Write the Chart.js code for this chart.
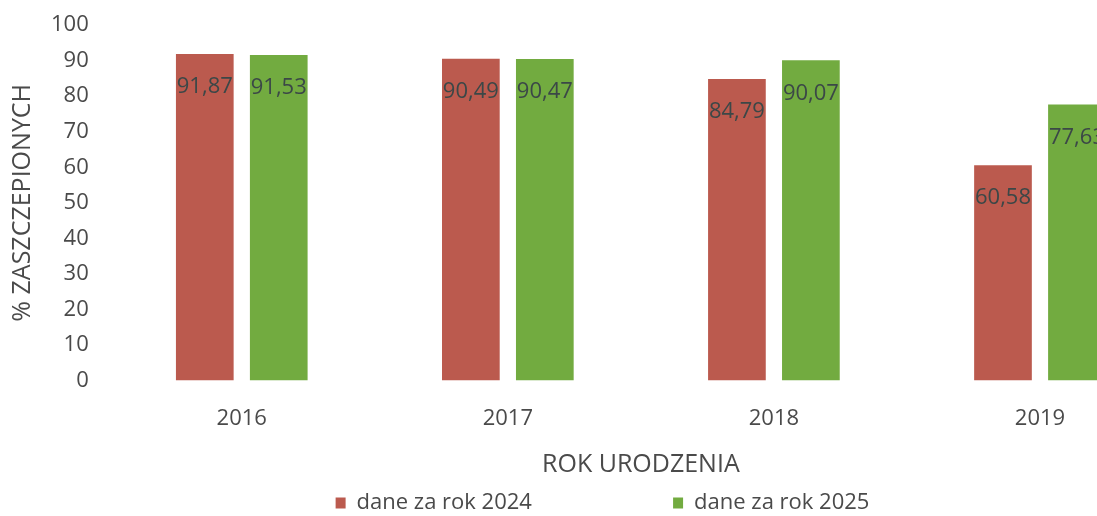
<!DOCTYPE html>
<html>
<head>
<meta charset="utf-8">
<script src="https://cdn.jsdelivr.net/npm/chart.js@4/dist/chart.umd.min.js"></script>
<style>
  html, body { margin: 0; padding: 0; background: #fff; overflow: hidden; }
  #wrap { width: 1097px; height: 516px; overflow: hidden; }
</style>
</head>
<body>
<div id="wrap"><canvas id="vacc" width="1210" height="524"></canvas></div>
<script>
'use strict';

const years = ["2016", "2017", "2018", "2019"];
const data2024 = [91.87, 90.49, 84.79, 60.58];
const data2025 = [91.53, 90.47, 90.07, 77.63];
const yTicks = [0, 10, 20, 30, 40, 50, 60, 70, 80, 90, 100];

const FONT = "'Open Sans', 'Liberation Sans', sans-serif";
const RED = "#bb5a4e";
const GREEN = "#72ab40";
const TEXT = "#4a4a4a";

// values written inside the top of each bar, clipped to the bar
const barLabels = {
  id: 'barLabels',
  afterDatasetsDraw(chart) {
    const ctx = chart.ctx;
    chart.data.datasets.forEach((ds, di) => {
      const meta = chart.getDatasetMeta(di);
      meta.data.forEach((bar, i) => {
        const w = bar.width;
        ctx.save();
        ctx.beginPath();
        ctx.rect(bar.x - w / 2, bar.y, w, bar.base - bar.y);
        ctx.clip();
        ctx.font = "22px " + FONT;
        ctx.fillStyle = "#3b4747";
        ctx.textAlign = "center";
        ctx.textBaseline = "middle";
        ctx.fillText(ds.data[i].toFixed(2).replace('.', ','), bar.x, bar.y + 33);
        ctx.restore();
      });
    });
  }
};

// legend sits a little right of the canvas middle in the original
const legendShift = {
  id: 'legendShift',
  afterLayout(chart) {
    chart.legend.left += 14;
    chart.legend.right += 14;
  }
};

let canvas = document.getElementById("vacc");

let chart = new Chart(canvas, {
  type: 'bar',
  data: {
    labels: years,
    datasets: [{
      label: "dane za rok 2024",
      data: data2024,
      backgroundColor: RED,
    }, {
      label: "dane za rok 2025",
      data: data2025,
      backgroundColor: GREEN,
    }],
  },
  options: {
    responsive: false,
    animation: false,
    devicePixelRatio: 1,
    layout: {
      padding: { left: 4, right: 37, top: 25, bottom: 0 }
    },
    datasets: {
      bar: { categoryPercentage: 0.556, barPercentage: 0.78 }
    },
    scales: {
      x: {
        grid: { display: false, drawTicks: false },
        border: { display: false },
        ticks: { color: TEXT, font: { family: FONT, size: 22 }, padding: 25 },
        title: {
          display: true,
          text: "ROK URODZENIA",
          color: TEXT,
          font: { family: FONT, size: 25 },
          padding: { top: -7, bottom: 8 }
        }
      },
      y: {
        min: 0,
        max: 100,
        grid: { display: false, drawTicks: false },
        border: { display: false },
        afterBuildTicks: axis => { axis.ticks = yTicks.map(v => ({ value: v })); },
        // tick padding would otherwise also push the plot top down
        afterFit: axis => { axis.paddingTop = 0; },
        ticks: { color: TEXT, font: { family: FONT, size: 22, lineHeight: 1 }, padding: 20 },
        title: {
          display: true,
          text: "% ZASZCZEPIONYCH",
          color: TEXT,
          font: { family: FONT, size: 25 },
          padding: { top: 4, bottom: -7 }
        }
      }
    },
    plugins: {
      tooltip: { enabled: false },
      legend: {
        position: 'bottom',
        labels: {
          color: TEXT,
          font: { family: FONT, size: 22 },
          boxWidth: 10,
          boxHeight: 11,
          padding: 4,
          generateLabels: c => {
            const items = Chart.defaults.plugins.legend.labels.generateLabels(c);
            items[0].text += '\u00a0'.repeat(24);
            return items;
          }
        }
      }
    }
  },
  plugins: [barLabels, legendShift]
});
</script>
</body>
</html>
